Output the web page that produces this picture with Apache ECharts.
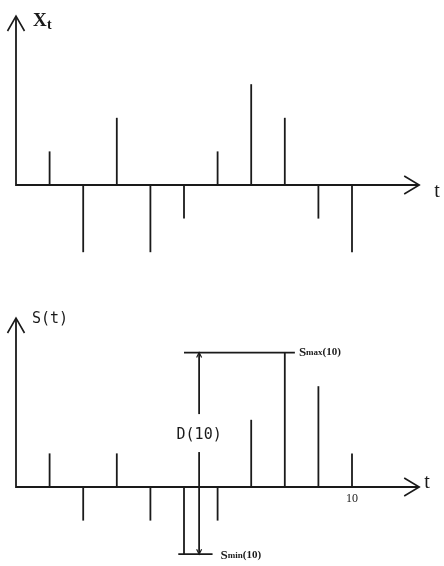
<!DOCTYPE html>
<html>
<head>
<meta charset="utf-8">
<script src="https://cdn.jsdelivr.net/npm/echarts@6/dist/echarts.min.js"></script>
<style>
  html, body { margin: 0; padding: 0; background: #fff; }
  #chart { width: 444px; height: 566px; }
</style>
</head>
<body>
<div id="chart"></div>
<script>
// time index and the two sequences (X_t increments, S(t) partial sums)
const tIdx = [1, 2, 3, 4, 5, 6, 7, 8, 9, 10];
const xt = [1, -2, 2, -2, -1, 1, 3, 2, -1, -2];
const st = [1, -1, 1, -1, -2, -1, 2, 4, 3, 1];
const tickLabels = ["10"];

const INK = "#1a1a1a";
const SERIF = '"Liberation Serif", "DejaVu Serif", serif';
const MONO = '"DejaVu Sans Mono", "Liberation Mono", monospace';
const LW = 1.8;

const sMax = Math.max(...st);
const sMin = Math.min(...st);
const tAtMin = tIdx[st.indexOf(sMin)];

function seg(a, b, w) {
  return {
    type: "line",
    shape: { x1: a[0], y1: a[1], x2: b[0], y2: b[1] },
    style: { stroke: INK, lineWidth: w || LW }
  };
}

// open arrow head, dir: "up" | "right" | "down"
function chevron(p, dir, len, half, w) {
  let pts;
  if (dir === "up") pts = [[p[0] - half, p[1] + len], p, [p[0] + half, p[1] + len]];
  else if (dir === "down") pts = [[p[0] - half, p[1] - len], p, [p[0] + half, p[1] - len]];
  else pts = [[p[0] - len, p[1] - half], p, [p[0] - len, p[1] + half]];
  return {
    type: "polyline",
    shape: { points: pts },
    style: { stroke: INK, lineWidth: w || 1.6, fill: null }
  };
}

function txt(x, y, text, font, align) {
  return {
    type: "text",
    x: x,
    y: y,
    style: { text: text, font: font, fill: INK, align: align || "left", verticalAlign: "middle" }
  };
}

function stems(params, api) {
  const p0 = api.coord([api.value(0), 0]);
  const p1 = api.coord([api.value(0), api.value(1)]);
  return seg(p0, p1);
}

function axesRender(which) {
  return function (params, api) {
    const o = api.coord([0, 0]);
    const top = api.coord([0, 5]);
    const end = api.coord([12, 0]);
    const kids = [
      { type: "polyline", shape: { points: [top, o, end] }, style: { stroke: INK, lineWidth: LW, fill: null } },
      chevron([top[0], top[1] - 1], "up", 15, 8.5),
      chevron([end[0], end[1]], "right", 15, 9)
    ];
    if (which === 0) {
      kids.push(txt(top[0] + 17, top[1] + 4, "X", "bold 19px " + SERIF));
      kids.push(txt(top[0] + 31, top[1] + 8, "t", "bold 14px " + SERIF));
      kids.push(txt(end[0] + 15, end[1] + 7, "t", "20px " + SERIF));
    } else {
      kids.push(txt(top[0] + 16, top[1], "S(t)", "15px " + MONO));
      kids.push(txt(end[0] + 5, end[1] - 4, "t", "20px " + SERIF));
      const p10 = api.coord([10, 0]);
      kids.push(txt(p10[0], p10[1] + 12, tickLabels[0], "12px " + SERIF, "center"));
    }
    return { type: "group", children: kids };
  };
}

function annotRender(params, api) {
  const xD = tAtMin + 0.45;
  const maxA = api.coord([tAtMin, sMax]);
  const maxB = api.coord([8.3, sMax]);
  const minA = api.coord([tAtMin - 0.17, sMin]);
  const minB = api.coord([tAtMin + 0.85, sMin]);
  const dTop = api.coord([xD, sMax]);
  const dBot = api.coord([xD, sMin]);
  const gapTop = api.coord([xD, 2.17]);
  const gapBot = api.coord([xD, 1.04]);
  const mid = api.coord([xD, 1.55]);
  const richLabel = {
    s: { font: "bold 13px " + SERIF, fill: INK },
    m: { font: "bold 9px " + SERIF, fill: INK },
    n: { font: "bold 11px " + SERIF, fill: INK }
  };
  return {
    type: "group",
    children: [
      seg(maxA, maxB),
      seg(minA, minB),
      seg(dTop, gapTop),
      seg(gapBot, dBot),
      chevron(dTop, "up", 5, 2.5, 1.2),
      chevron(dBot, "down", 5, 2.5, 1.2),
      txt(mid[0], mid[1], "D(10)", "15px " + MONO, "center"),
      {
        type: "text", x: maxB[0] + 4, y: maxB[1],
        style: { text: "{s|S}{m|max}{n|(10)}", fill: INK, verticalAlign: "middle", rich: richLabel }
      },
      {
        type: "text", x: minB[0] + 8, y: minB[1] + 1,
        style: { text: "{s|S}{m|min}{n|(10)}", fill: INK, verticalAlign: "middle", rich: richLabel }
      }
    ]
  };
}

const chart = echarts.init(document.getElementById("chart"), null, { renderer: "canvas" });
const U = 33.6; // px per unit, same on both axes

chart.setOption({
  animation: false,
  backgroundColor: "#fff",
  grid: [
    { left: 16, top: 185 - 5 * U, width: 12 * U, height: 8 * U },
    { left: 16, top: 487 - 5 * U, width: 12 * U, height: 7.3 * U }
  ],
  xAxis: [
    { type: "value", gridIndex: 0, min: 0, max: 12, show: false },
    { type: "value", gridIndex: 1, min: 0, max: 12, show: false }
  ],
  yAxis: [
    { type: "value", gridIndex: 0, min: -3, max: 5, show: false },
    { type: "value", gridIndex: 1, min: -2.3, max: 5, show: false }
  ],
  series: [
    { type: "custom", xAxisIndex: 0, yAxisIndex: 0, renderItem: axesRender(0), data: [[0]] },
    { type: "custom", xAxisIndex: 1, yAxisIndex: 1, renderItem: axesRender(1), data: [[0]] },
    { type: "custom", name: "Xt", xAxisIndex: 0, yAxisIndex: 0, renderItem: stems,
      data: tIdx.map((t, i) => [t, xt[i]]) },
    { type: "custom", name: "S(t)", xAxisIndex: 1, yAxisIndex: 1, renderItem: stems,
      data: tIdx.map((t, i) => [t, st[i]]) },
    { type: "custom", xAxisIndex: 1, yAxisIndex: 1, renderItem: annotRender, data: [[0]] }
  ]
});
</script>
</body>
</html>
